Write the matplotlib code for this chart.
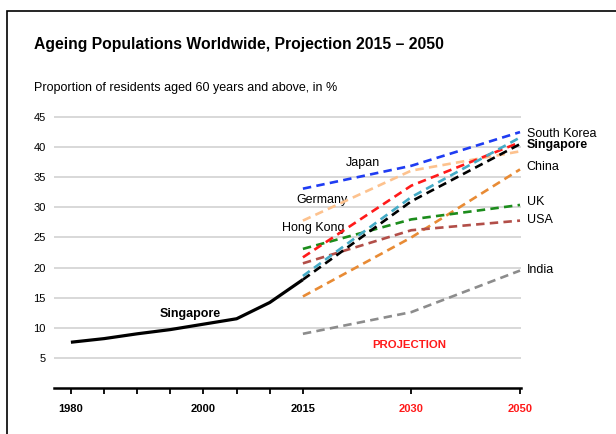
import numpy as np
import matplotlib.pyplot as plt
from matplotlib.patches import Rectangle

plt.rcParams['font.family'] = ['Liberation Sans', 'DejaVu Sans']

# historical Singapore series
hist_years = [1980, 1985, 1990, 1995, 2000, 2005, 2010, 2015]
hist_sg = [7.6, 8.2, 9.0, 9.7, 10.6, 11.5, 14.2, 18.0]

# projections 2015 / 2030 / 2050
proj_years = [2015, 2030, 2050]
india = [9.0, 12.6, 19.5]
china = [15.2, 25.0, 36.3]
usa = [20.7, 26.2, 27.8]
uk = [23.1, 28.0, 30.4]
germany = [27.8, 36.1, 39.3]
japan = [33.1, 36.9, 42.5]
hong_kong = [21.7, 33.6, 40.8]
south_korea = [18.6, 31.7, 41.6]
singapore = [18.0, 31.0, 40.5]

series = [
    (india, "#8c8c8c"),
    (china, "#e88b35"),
    (usa, "#b24e48"),
    (uk, "#1c8c1c"),
    (germany, "#fdc28e"),
    (japan, "#1f3cf2"),
    (hong_kong, "#ff1a1a"),
    (south_korea, "#45abc6"),
    (singapore, "#000000"),
]

# the axis is squeezed after 2015: 2015, 2030 and 2050 equally spaced
def xpos(y):
    return np.interp(y, [1980, 2015, 2030, 2050], [0, 7, 10.27, 13.55])

fig = plt.figure(figsize=(6.16, 4.34), dpi=100)
ax = fig.add_axes([54/616, 46/434, 467/616, (388-111)/434])

ax.plot(xpos(np.array(hist_years)), hist_sg, color="black", lw=2.3,
        solid_capstyle="butt", zorder=5)
for vals, c in series:
    ax.plot(xpos(np.array(proj_years)), vals, color=c, lw=1.9,
            dashes=(3.2, 2.0), zorder=4)

ax.set_xlim(-0.51, 13.58)
ax.set_ylim(0, 46)

ax.set_yticks(range(5, 50, 5))
ax.grid(axis="y", color="#d2d2d2", lw=1.2)
ax.set_axisbelow(True)
ax.tick_params(axis="y", length=0, pad=6, labelsize=8)

lab_years = [1980, 2000, 2015, 2030, 2050]
ax.set_xticks(xpos(np.array(lab_years)))
ax.set_xticklabels([str(y) for y in lab_years], fontweight="bold", fontsize=8)
for t, y in zip(ax.get_xticklabels(), lab_years):
    if y > 2015:
        t.set_color("#ff1a1a")
ax.set_xticks(xpos(np.array([1985, 1990, 1995, 2005, 2010])), minor=True)
ax.tick_params(axis="x", which="both", direction="out", length=4.3, width=1.3,
               pad=7, top=False)

for s in ["left", "right", "top"]:
    ax.spines[s].set_visible(False)
ax.spines["bottom"].set_linewidth(1.8)

# labels
fs = 9
ax.text(8.82, 37.3, "Japan", fontsize=fs, ha="center", va="center")
ax.text(7.58, 31.2, "Germany", fontsize=fs, ha="center", va="center")
ax.text(7.31, 26.6, "Hong Kong", fontsize=fs, ha="center", va="center")
ax.text(3.6, 12.3, "Singapore", fontsize=fs, ha="center", va="center",
        fontweight="bold")
ax.text(10.2, 7.2, "PROJECTION", fontsize=8.2, ha="center", va="center",
        fontweight="bold", color="#ff1a1a")

right_labels = [("South Korea", 42.1, "normal"), ("Singapore", 40.3, "bold"),
                ("China", 36.7, "normal"), ("UK", 30.9, "normal"),
                ("USA", 27.9, "normal"), ("India", 19.6, "normal")]
for name, yv, w in right_labels:
    ax.text(13.75, yv, name, fontsize=fs, ha="left", va="center", fontweight=w,
            clip_on=False)

fig.text(34/616, 1 - 44/434, "Ageing Populations Worldwide, Projection 2015 – 2050",
         fontsize=11.3, fontweight="bold", va="center", ha="left")
fig.text(34/616, 1 - 88/434, "Proportion of residents aged 60 years and above, in %",
         fontsize=9, va="center", ha="left")

fig.patches.append(Rectangle((6.5/616, -0.1), 1.2, 1 - 11/434 + 0.1,
                             transform=fig.transFigure, fill=False,
                             edgecolor="black", lw=1.2))

fig.savefig("out.png", dpi=100)
